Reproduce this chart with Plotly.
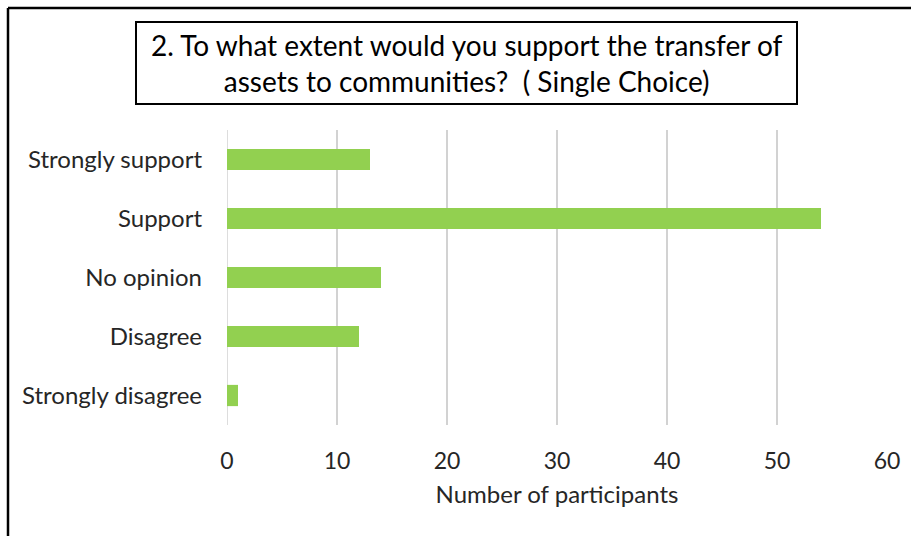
import plotly.graph_objects as go

# Survey responses
categories = ["Strongly support", "Support", "No opinion", "Disagree", "Strongly disagree"]
participants = [13, 54, 14, 12, 1]
x_ticks = [0, 10, 20, 30, 40, 50, 60]

title_lines = ["2. To what extent would you support the transfer of",
               "assets to communities?  ( Single Choice)"]

W, H = 911, 536
L, R, T, B = 227, 24, 130, 111
pw, ph = W - L - R, H - T - B


def px_x(v):
    return (v - L) / pw


def px_y(v):
    return (H - B - v) / ph


font_family = "Lato, 'Open Sans', sans-serif"
text_color = "#262626"
grid_color = "#d2d2d2"

fig = go.Figure(
    go.Bar(
        x=participants,
        y=categories,
        orientation="h",
        marker=dict(color="#92D050", line=dict(width=0)),
        width=0.36,
        hoverinfo="x+y",
    )
)

fig.update_layout(
    width=W,
    height=H,
    margin=dict(l=L, r=R, t=T, b=B),
    paper_bgcolor="white",
    plot_bgcolor="white",
    showlegend=False,
    font=dict(family=font_family, color=text_color, size=23),
    xaxis=dict(
        range=[0, 60],
        tickvals=x_ticks,
        showgrid=True,
        gridcolor=grid_color,
        gridwidth=1.5,
        zeroline=False,
        showline=False,
        ticks="",
        ticklabelstandoff=20,
        tickfont=dict(size=23, color=text_color),
        title=dict(text="Number of participants", font=dict(size=24, color=text_color), standoff=13),
        fixedrange=True,
    ),
    yaxis=dict(
        categoryorder="array",
        categoryarray=categories[::-1],
        showgrid=False,
        zeroline=False,
        showline=False,
        ticks="",
        ticklabelstandoff=24,
        tickfont=dict(size=24, color=text_color),
        fixedrange=True,
    ),
)

# Gridline at zero drawn like the others
fig.add_shape(type="line", xref="x", yref="paper", x0=0, x1=0, y0=0, y1=1,
              line=dict(color=grid_color, width=1.5), layer="below")

# Outer frame (left and top edges visible)
fig.add_shape(type="line", xref="paper", yref="paper",
              x0=px_x(8), x1=px_x(8), y0=px_y(8), y1=px_y(545),
              line=dict(color="black", width=2.5))
fig.add_shape(type="line", xref="paper", yref="paper",
              x0=px_x(8), x1=px_x(920), y0=px_y(8), y1=px_y(8),
              line=dict(color="black", width=2.5))

# Boxed title
fig.add_shape(type="rect", xref="paper", yref="paper",
              x0=px_x(136), x1=px_x(797), y0=px_y(104), y1=px_y(22),
              line=dict(color="black", width=2), fillcolor="white")
fig.add_annotation(
    xref="paper", yref="paper",
    x=px_x(466.5), y=px_y(63),
    text="<br>".join(title_lines),
    showarrow=False,
    font=dict(size=28, color="black", family=font_family),
    align="center",
    xanchor="center", yanchor="middle",
)

fig.write_html("out.html")
